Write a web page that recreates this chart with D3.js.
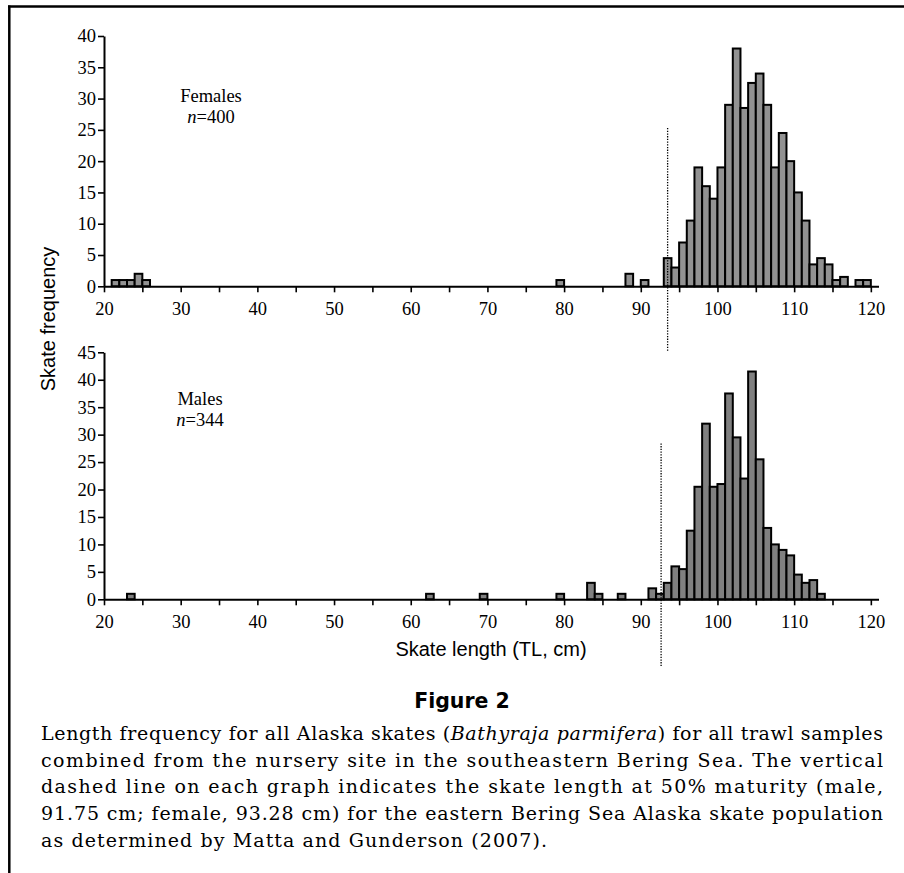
<!DOCTYPE html>
<html>
<head>
<meta charset="utf-8">
<script src="https://cdn.jsdelivr.net/npm/d3@7"></script>
<style>
  body { margin: 0; background: #fff; }
  svg { display: block; }
</style>
</head>
<body>
<div class="canvas"></div>
<script>
// length bins (left edge, cm) and frequencies
const femaleLengths = [21, 22, 23, 24, 25, 79, 88, 90, 93, 94, 95, 96, 97, 98, 99, 100, 101, 102, 103, 104, 105, 106, 107, 108, 109, 110, 111, 112, 113, 114, 115, 116, 118, 119];
const femaleCounts = [1, 1, 1, 2, 1, 1, 2, 1, 4.5, 3, 7, 10.5, 19, 16, 14, 19, 29, 38, 28.5, 32.5, 34, 29, 19, 24.5, 20, 15, 10.5, 3.5, 4.5, 3.5, 1, 1.5, 1, 1];

const maleLengths = [23, 62, 69, 79, 83, 84, 87, 91, 92, 93, 94, 95, 96, 97, 98, 99, 100, 101, 102, 103, 104, 105, 106, 107, 108, 109, 110, 111, 112, 113];
const maleCounts = [1, 1, 1, 1, 3, 1, 1, 2, 1, 3, 6, 5.5, 12.5, 20.5, 32, 20.5, 21, 37.5, 29.5, 22, 41.5, 25.5, 13, 10, 9, 8, 4.5, 3, 3.5, 1];

// 50% maturity lines (as drawn)
const femaleMaturity = 93.5;
const maleMaturity = 92.65;

const xTicks = d3.range(20, 121, 5);
const femaleYTicks = d3.range(0, 41, 5);
const maleYTicks = d3.range(0, 46, 5);

const captionLines = [
  ["Length frequency for all Alaska skates (", "Bathyraja parmifera", ") for all trawl samples"],
  ["combined from the nursery site in the southeastern Bering Sea. The vertical"],
  ["dashed line on each graph indicates the skate length at 50% maturity (male,"],
  ["91.75 cm; female, 93.28 cm) for the eastern Bering Sea Alaska skate population"],
  ["as determined by Matta and Gunderson (2007)."]
];

const dims = { width: 904, height: 873 };

const svg = d3
  .select(".canvas")
  .append("svg")
  .attr("width", dims.width)
  .attr("height", dims.height);

// frame lines
svg.append("line")
  .attr("x1", 8).attr("x2", dims.width)
  .attr("y1", 6.6).attr("y2", 6.6)
  .attr("stroke", "#000").attr("stroke-width", 2.5);
svg.append("line")
  .attr("x1", 9.3).attr("x2", 9.3)
  .attr("y1", 5.4).attr("y2", dims.height)
  .attr("stroke", "#000").attr("stroke-width", 2.5);

const x = d3.scaleLinear().domain([20, 121]).range([104, 878.5]);

const panels = [
  {
    lengths: femaleLengths, counts: femaleCounts, yTicks: femaleYTicks,
    y: d3.scaleLinear().domain([0, 40]).range([286.3, 36]),
    fill: "#929292", maturity: femaleMaturity, matTop: 25.3,
    label: "Females", n: "400", labelX: 211, labelY: 101.7
  },
  {
    lengths: maleLengths, counts: maleCounts, yTicks: maleYTicks,
    y: d3.scaleLinear().domain([0, 45]).range([599.3, 352.3]),
    fill: "#808080", maturity: maleMaturity, matTop: 28.4,
    label: "Males", n: "344", labelX: 200, labelY: 405
  }
];

panels.forEach(p => {
  const g = svg.append("g");
  const y0 = p.y(0);
  const data = p.lengths.map((l, i) => ({ len: l, count: p.counts[i] }));

  // bars
  g.selectAll("rect")
    .data(data)
    .enter()
    .append("rect")
    .attr("x", d => x(d.len))
    .attr("width", d => x(d.len + 1) - x(d.len))
    .attr("y", d => p.y(d.count))
    .attr("height", d => y0 - p.y(d.count))
    .attr("fill", p.fill)
    .attr("stroke", "#000")
    .attr("stroke-width", 2);

  // x axis
  const xAxis = g.append("g")
    .attr("transform", `translate(0, ${y0})`)
    .call(d3.axisBottom(x)
      .tickValues(xTicks)
      .tickFormat(d => (d % 10 === 0 ? d : ""))
      .tickSize(6)
      .tickSizeOuter(0));
  xAxis.select(".domain").attr("stroke-width", 2);
  xAxis.selectAll(".tick line").attr("stroke-width", 1.6);
  xAxis.selectAll("text")
    .attr("y", 29).attr("dy", 0)
    .attr("font-family", "'Liberation Serif', 'Times New Roman', serif")
    .attr("font-size", 18.5)
    .attr("fill", "#000");

  // y axis
  const yAxis = g.append("g")
    .attr("transform", `translate(${x(20)}, 0)`)
    .call(d3.axisLeft(p.y)
      .tickValues(p.yTicks)
      .tickSize(6)
      .tickPadding(2)
      .tickSizeOuter(0));
  yAxis.select(".domain").attr("stroke-width", 2);
  yAxis.selectAll(".tick line").attr("stroke-width", 1.6);
  yAxis.selectAll("text")
    .attr("font-family", "'Liberation Serif', 'Times New Roman', serif")
    .attr("font-size", 18.5)
    .attr("fill", "#000");

  // maturity line
  g.append("line")
    .attr("x1", x(p.maturity)).attr("x2", x(p.maturity))
    .attr("y1", p.y(p.matTop)).attr("y2", p.y(p.matTop) + 224)
    .attr("stroke", "#000")
    .attr("stroke-width", 1.3)
    .attr("stroke-dasharray", "1.3,1.4");

  // sex label
  const lab = g.append("text")
    .attr("font-family", "'Liberation Serif', 'Times New Roman', serif")
    .attr("font-size", 18.5)
    .attr("text-anchor", "middle");
  lab.append("tspan").attr("x", p.labelX).attr("y", p.labelY).text(p.label);
  const nl = lab.append("tspan").attr("x", p.labelX).attr("y", p.labelY + 21);
  nl.append("tspan").attr("font-style", "italic").text("n");
  nl.append("tspan").text("=" + p.n);
});

// axis titles
svg.append("text")
  .attr("x", 491).attr("y", 655.5)
  .attr("text-anchor", "middle")
  .attr("font-family", "'Liberation Sans', Arial, sans-serif")
  .attr("font-size", 20)
  .text("Skate length (TL, cm)");

svg.append("text")
  .attr("transform", "translate(55, 319) rotate(-90)")
  .attr("text-anchor", "middle")
  .attr("font-family", "'Liberation Sans', Arial, sans-serif")
  .attr("font-size", 20)
  .text("Skate frequency");

// caption
svg.append("text")
  .attr("x", 462).attr("y", 708.3)
  .attr("text-anchor", "middle")
  .attr("font-family", "'DejaVu Sans', sans-serif")
  .attr("font-weight", "bold")
  .attr("font-size", 20.5)
  .text("Figure 2");

const lineWidths = [842, 842, 842, 842, 506];
captionLines.forEach((parts, i) => {
  const t = svg.append("text")
    .attr("x", 41)
    .attr("y", 740 + i * 26.7)
    .attr("font-family", "'DejaVu Serif', serif")
    .attr("font-size", 19)
    .attr("textLength", lineWidths[i])
    .attr("lengthAdjust", "spacing");
  parts.forEach((s, j) => {
    t.append("tspan")
      .attr("font-style", j === 1 ? "italic" : null)
      .text(s);
  });
});
</script>
</body>
</html>
